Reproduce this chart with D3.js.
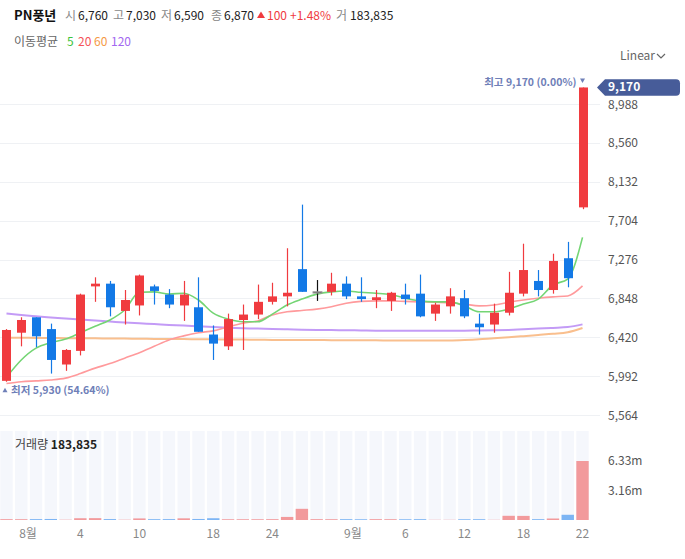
<!DOCTYPE html>
<html>
<head>
<meta charset="utf-8">
<script src="https://cdn.jsdelivr.net/npm/d3@7"></script>
<style>
  body { margin: 0; background: #fff; }
  svg { display: block; font-family: "Noto Sans CJK KR", "Noto Sans", sans-serif; }
</style>
</head>
<body>
<script>
// trading days shown (2023-07-28 .. 2023-09-22)
var dates = ["07-28","07-31","08-01","08-02","08-03","08-04","08-07","08-08","08-09","08-10",
             "08-11","08-14","08-16","08-17","08-18","08-21","08-22","08-23","08-24","08-25",
             "08-28","08-29","08-30","08-31","09-01","09-04","09-05","09-06","09-07","09-08",
             "09-11","09-12","09-13","09-14","09-15","09-18","09-19","09-20","09-21","09-22"];

var opens  = [5940,6470,6640,6510,6120,6270,6980,7010,6710,6770,6980,6890,6770,6750,6450,6320,6610,6670,6810,6870,
              7170,6920,6920,7010,6870,6830,6820,6890,6900,6680,6760,6850,6570,6560,6690,6900,7040,6940,7290,7850];
var highs  = [6510,6640,6640,6570,6290,6900,7080,7040,6940,7110,7000,6950,7040,7080,6550,6680,6780,7000,7020,7400,
              7880,7050,7130,7090,7080,6940,6920,7010,7110,6800,6960,6940,6680,6790,7140,7450,7160,7340,7470,9170];
var lows   = [5930,6320,6310,6020,6050,6220,6810,6650,6560,6660,6780,6740,6600,6480,6170,6280,6280,6620,6780,6760,
              6920,6820,6880,6840,6810,6740,6710,6780,6640,6600,6680,6630,6450,6470,6660,6870,6870,6900,6970,7830];
var closes = [6500,6610,6430,6170,6280,6890,7010,6750,6830,7100,6930,6780,6890,6480,6350,6620,6670,6810,6870,6910,
              6920,6920,7010,6870,6840,6860,6910,6840,6650,6780,6870,6650,6530,6690,6910,7160,6940,7260,7070,9170];
var volumes = [90000,85000,95000,110000,30000,190000,200000,100000,30000,170000,90000,95000,180000,110000,190000,80000,80000,80000,90000,330000,
               1200000,90000,85000,90000,80000,90000,85000,80000,90000,20000,20000,80000,85000,20000,450000,440000,90000,160000,560000,6330000];

// moving averages
var ma5   = [5980,6170,6300,6360,6400,6470,6540,6610,6720,6915,6920,6895,6905,6830,6685,6620,6590,6590,6675,6775,
             6840,6895,6920,6930,6915,6905,6890,6850,6820,6810,6810,6765,6700,6700,6730,6785,6840,6995,7060,7520];
var ma20  = [5910,5930,5940,5950,5970,6020,6080,6130,6190,6250,6320,6390,6435,6470,6490,6535,6575,6600,6665,6700,
             6715,6730,6755,6795,6815,6820,6820,6815,6810,6805,6800,6785,6765,6775,6805,6830,6850,6865,6875,6985];
var ma60  = [6415,6414,6413,6412,6410,6409,6408,6406,6405,6404,6402,6401,6400,6398,6397,6395,6394,6392,6391,6390,
             6390,6389,6388,6387,6386,6386,6385,6385,6384,6384,6385,6390,6398,6410,6420,6432,6445,6458,6475,6522];
var ma120 = [6681,6665,6651,6637,6626,6615,6604,6593,6582,6573,6565,6556,6549,6540,6532,6524,6519,6515,6510,6507,
             6503,6501,6499,6497,6495,6492,6492,6492,6492,6492,6492,6492,6495,6497,6501,6508,6515,6523,6532,6562];

var priceTicks = [8988,8560,8132,7704,7276,6848,6420,5992,5564];
var volTicks = [3160000, 6330000];
var volTickLabels = ["3.16m", "6.33m"];
var xTickDates  = ["08-01","08-04","08-10","08-18","08-24","09-01","09-06","09-12","09-18","09-22"];
var xTickLabels = ["8월","4","10","18","24","9월","6","12","18","22"];

var W = 685, H = 559;
var RED = "#f03b3f", BLUE = "#1379e6", MARK = "#6f80b8";

var svg = d3.select("body").append("svg").attr("width", W).attr("height", H);

var x = d3.scaleBand().domain(dates).range([-0.9, 589.9]).paddingInner(0).paddingOuter(0);
var cx = function (d) { return x(d) + x.bandwidth() / 2; };
var y = d3.scaleLinear().domain([5564, 8988]).range([415, 104]);
var yv = d3.scaleLinear().domain([0, 6330000]).range([520, 461]);

// header
var h1 = svg.append("text").attr("y", 19.5).attr("font-size", 12);
h1.append("tspan").attr("x", 14).attr("font-weight", "bold").attr("font-size", 13).attr("fill", "#111").text("PN풍년");
var hdr = [["시", "6,760", 65], ["고", "7,030", 113], ["저", "6,590", 161], ["종", "6,870", 211]];
hdr.forEach(function (h) {
    h1.append("tspan").attr("x", h[2]).attr("fill", "#888").text(h[0]);
    h1.append("tspan").attr("x", h[2] + 13).attr("fill", "#222").text(h[1]);
});
svg.append("path").attr("d", "M257,18 L261,11.5 L265,18 Z").attr("fill", RED);
h1.append("tspan").attr("x", 267).attr("fill", RED).text("100");
h1.append("tspan").attr("x", 290).attr("fill", RED).text("+1.48%");
h1.append("tspan").attr("x", 336).attr("fill", "#888").text("거");
h1.append("tspan").attr("x", 350).attr("fill", "#222").text("183,835");

var h2 = svg.append("text").attr("y", 46).attr("font-size", 12);
h2.append("tspan").attr("x", 14).attr("fill", "#666").text("이동평균");
h2.append("tspan").attr("x", 67).attr("fill", "#3cc43c").text("5");
h2.append("tspan").attr("x", 78).attr("fill", "#f5535a").text("20");
h2.append("tspan").attr("x", 94).attr("fill", "#f59a45").text("60");
h2.append("tspan").attr("x", 111).attr("fill", "#a368f0").text("120");

svg.append("text").attr("x", 620).attr("y", 60).attr("font-size", 12).attr("fill", "#666").text("Linear");
svg.append("path").attr("d", "M657,54 L661,58 L665,54").attr("fill", "none").attr("stroke", "#666").attr("stroke-width", 1.2);

// gridlines + price axis
svg.append("g").selectAll("line").data(priceTicks).enter().append("line")
    .attr("x1", 0).attr("x2", 600)
    .attr("y1", function (d) { return Math.round(y(d)) + 0.5; })
    .attr("y2", function (d) { return Math.round(y(d)) + 0.5; })
    .attr("stroke", "#eff1f4");

svg.append("g").selectAll("text").data(priceTicks).enter().append("text")
    .attr("x", 608).attr("y", function (d) { return y(d); }).attr("dy", "0.38em")
    .attr("font-size", 12).attr("fill", "#555")
    .text(function (d) { return d3.format(",")(d); });

// volume panel
svg.append("g").selectAll("rect").data(dates).enter().append("rect")
    .attr("x", function (d) { return cx(d) - 6.2; }).attr("width", 12.4)
    .attr("y", 431).attr("height", 520 - 431)
    .attr("fill", "#f5f7fc");

svg.append("g").selectAll("rect").data(volumes).enter().append("rect")
    .attr("x", function (d, i) { return cx(dates[i]) - 6.2; }).attr("width", 12.4)
    .attr("y", function (d) { return yv(d); })
    .attr("height", function (d) { return 520 - yv(d); })
    .attr("fill", function (d, i) {
        var up = i === 0 || closes[i] >= closes[i - 1];
        return up ? "#f29a9c" : "#7db5f4";
    });

svg.append("g").selectAll("text").data(volTicks).enter().append("text")
    .attr("x", 608).attr("y", function (d) { return yv(d); }).attr("dy", "0.35em")
    .attr("font-size", 12).attr("fill", "#555")
    .text(function (d, i) { return volTickLabels[i]; });

var vl = svg.append("text").attr("x", 15).attr("y", 448.5).attr("font-size", 12);
vl.append("tspan").attr("fill", "#444").text("거래량 ");
vl.append("tspan").attr("fill", "#222").attr("font-weight", "bold").text("183,835");

// x axis labels
svg.append("g").selectAll("text").data(xTickDates).enter().append("text")
    .attr("x", function (d, i) { return cx(d) + (xTickLabels[i].indexOf("월") >= 0 ? -8 : 0); })
    .attr("y", 537.5).attr("text-anchor", "middle")
    .attr("font-size", 12).attr("fill", "#888")
    .text(function (d, i) { return xTickLabels[i]; });

// moving averages
var maLine = function (arr) {
    return d3.line().x(function (d, i) { return cx(dates[i]); }).y(function (d) { return y(d); })
        .curve(d3.curveMonotoneX)(arr);
};
svg.append("path").attr("d", maLine(ma60)).attr("fill", "none").attr("stroke", "#f8b47a").attr("stroke-width", 2).attr("opacity", 0.85);
svg.append("path").attr("d", maLine(ma120)).attr("fill", "none").attr("stroke", "#b88af5").attr("stroke-width", 2).attr("opacity", 0.85);
svg.append("path").attr("d", maLine(ma20)).attr("fill", "none").attr("stroke", "#ff9a9c").attr("stroke-width", 1.6);
svg.append("path").attr("d", maLine(ma5)).attr("fill", "none").attr("stroke", "#74d574").attr("stroke-width", 1.6);

// candles
var candles = svg.append("g").selectAll("g").data(dates).enter().append("g");
var colorOf = function (i) {
    if (closes[i] > opens[i]) return RED;
    if (closes[i] < opens[i]) return BLUE;
    return "#111";
};
candles.append("line")
    .attr("x1", function (d) { return Math.round(cx(d)) + 0.5; })
    .attr("x2", function (d) { return Math.round(cx(d)) + 0.5; })
    .attr("y1", function (d, i) { return y(highs[i]); })
    .attr("y2", function (d, i) { return y(lows[i]); })
    .attr("stroke", function (d, i) { return colorOf(i); })
    .attr("stroke-width", 1.2);
candles.append("rect")
    .attr("x", function (d) { return Math.round(cx(d)) + 0.5 - 4.5; })
    .attr("width", 9)
    .attr("y", function (d, i) { return y(Math.max(opens[i], closes[i])); })
    .attr("height", function (d, i) { return Math.max(1.2, Math.abs(y(opens[i]) - y(closes[i]))); })
    .attr("fill", function (d, i) { return colorOf(i); })
    .attr("stroke", function (d, i) { return opens[i] === closes[i] ? "#999" : "none"; })
    .attr("stroke-width", 1);

// high / low markers
var hiIdx = d3.maxIndex(highs), loIdx = d3.minIndex(lows);
var last = closes[closes.length - 1];
var hx = cx(dates[hiIdx]), hy = y(highs[hiIdx]) - 5.5;
svg.append("path").attr("d", "M" + (hx - 2.5) + "," + (hy - 3.5) + " L" + (hx + 2.5) + "," + (hy - 3.5) + " L" + hx + "," + (hy + 1) + " Z")
    .attr("fill", MARK);
svg.append("text").attr("x", hx - 6).attr("y", hy).attr("dy", "0.35em")
    .attr("text-anchor", "end").attr("font-size", 10.5).attr("fill", MARK).attr("font-weight", "bold")
    .text("최고 " + d3.format(",")(highs[hiIdx]) + " (" + ((last / highs[hiIdx] - 1) * 100).toFixed(2) + "%)");

var lx = 5, ly = y(lows[loIdx]) + 8.5;
svg.append("path").attr("d", "M" + (lx - 2.5) + "," + (ly + 2) + " L" + (lx + 2.5) + "," + (ly + 2) + " L" + lx + "," + (ly - 2.5) + " Z")
    .attr("fill", MARK);
svg.append("text").attr("x", lx + 6).attr("y", ly).attr("dy", "0.35em")
    .attr("font-size", 10.5).attr("fill", MARK).attr("font-weight", "bold")
    .text("최저 " + d3.format(",")(lows[loIdx]) + " (" + ((last / lows[loIdx] - 1) * 100).toFixed(2) + "%)");

// current price tag
var ty = y(last);
svg.append("path")
    .attr("d", "M597," + ty + " L605," + (ty - 8.2) + " L676," + (ty - 8.2) + " Q680," + (ty - 8.2) + " 680," + (ty - 4.2) +
               " L680," + (ty + 4.2) + " Q680," + (ty + 8.2) + " 676," + (ty + 8.2) + " L605," + (ty + 8.2) + " Z")
    .attr("fill", "#475c99");
svg.append("text").attr("x", 608).attr("y", ty).attr("dy", "0.33em")
    .attr("font-size", 12).attr("font-weight", "bold").attr("fill", "#fff")
    .text(d3.format(",")(last));
</script>
</body>
</html>
